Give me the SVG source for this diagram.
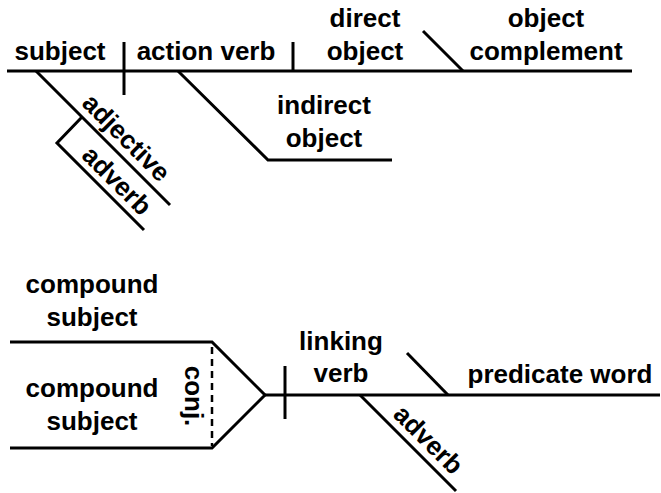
<svg xmlns="http://www.w3.org/2000/svg" width="661" height="493" viewBox="0 0 661 493">
<style>
  .ln { stroke: #000; stroke-width: 3; fill: none; stroke-linecap: butt; stroke-linejoin: miter; }
  .dash { stroke: #000; stroke-width: 2.5; fill: none; stroke-dasharray: 7 5; }
  text { font-family: "Liberation Sans", Arial, Helvetica, sans-serif; font-weight: bold; font-size: 26px; fill: #000; text-anchor: middle; }
</style>
<rect width="661" height="493" fill="#fff"/>
<g id="connectors">
  <!-- top diagram -->
  <line class="ln" x1="7" y1="71" x2="632" y2="71"/>
  <line class="ln" x1="124" y1="42" x2="124" y2="95"/>
  <line class="ln" x1="293" y1="42" x2="293" y2="71"/>
  <line class="ln" x1="423" y1="31" x2="463" y2="71"/>
  <line class="ln" x1="36" y1="71" x2="170" y2="205"/>
  <polyline class="ln" points="82,117 57,143 144,230"/>
  <polyline class="ln" points="178,71 268,160 392,160"/>
  <!-- bottom diagram -->
  <polyline class="ln" points="10,342 212,342 265,395 212,448 10,448"/>
  <line class="dash" x1="212" y1="347" x2="212" y2="446"/>
  <line class="ln" x1="265" y1="395" x2="660" y2="395"/>
  <line class="ln" x1="285" y1="366" x2="285" y2="419"/>
  <line class="ln" x1="407" y1="353" x2="448" y2="395"/>
  <line class="ln" x1="360" y1="395" x2="456" y2="491"/>
</g>
<g id="subject"><text x="60" y="60">subject</text></g>
<g id="action-verb"><text x="206" y="60">action verb</text></g>
<g id="direct-object"><text x="365" y="27">direct</text><text x="365" y="60">object</text></g>
<g id="object-complement"><text x="546" y="27">object</text><text x="546" y="60">complement</text></g>
<g id="indirect-object"><text x="324" y="114">indirect</text><text x="324" y="147">object</text></g>
<g id="adjective"><text transform="translate(36,71) rotate(45)" x="111" y="-8">adjective</text></g>
<g id="adverb-1"><text transform="translate(57,143) rotate(45)" x="69" y="-7">adverb</text></g>
<g id="compound-subject-1"><text x="92" y="293">compound</text><text x="92" y="326">subject</text></g>
<g id="compound-subject-2"><text x="92" y="397">compound</text><text x="92" y="430">subject</text></g>
<g id="conj"><text transform="translate(185,396) rotate(90)" x="0" y="0">conj.</text></g>
<g id="linking-verb"><text x="341" y="350">linking</text><text x="341" y="382">verb</text></g>
<g id="predicate-word"><text x="560" y="383">predicate word</text></g>
<g id="adverb-2"><text transform="translate(360,395) rotate(45)" x="80" y="-8">adverb</text></g>
</svg>
